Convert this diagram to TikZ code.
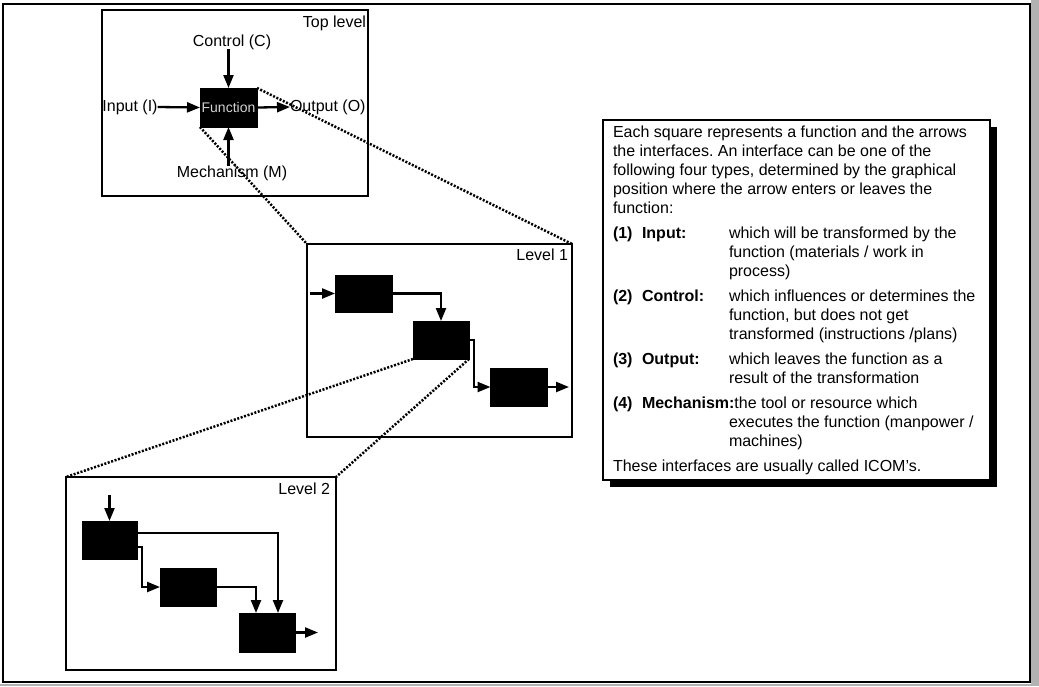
\documentclass[tikz,border=0pt]{standalone}
\usepackage{fontspec}
\setmainfont{Liberation Sans}
\usetikzlibrary{arrows.meta,shadows}
\frenchspacing
\begin{document}
\begin{tikzpicture}[x=1pt,y=-1pt,
  every node/.style={inner sep=0pt,outer sep=0pt,font=\fontsize{16}{19}\selectfont},
  frame/.style={draw=black,line width=1.8pt},
  func/.style={fill=black,draw=black,inner sep=0pt},
  flow/.style={line width=2.3pt,-{Triangle[length=13pt,width=10pt]}},
  zoomline/.style={line width=2.5pt,dash pattern=on 2pt off 1.6pt},
  lvl/.style={anchor=base east},
  txt/.style={anchor=north west,align=left},
  bf/.style={anchor=base west,font=\fontsize{16}{19}\selectfont\bfseries},
  rg/.style={anchor=base west}]
\useasboundingbox (0,0) rectangle (1039,686);
% page edge and outer frame
\fill[gray!60] (1031,0) rectangle (1039,686);
\fill[gray!60] (0,684) rectangle (1039,686);
\draw[line width=2.2pt] (3,4) rectangle (1030,682);

% ---- top level ----
\node[frame,minimum width=266pt,minimum height=186pt] (toplvl) at (235,103) {};
\node[lvl] (toplbl) at (366,27) {Top level};
\node[func,minimum width=57pt,minimum height=39pt,
      font=\fontsize{14}{16}\selectfont,text=gray!35] (fn) at (228.5,107.5) {Function};
\node (ctl) at (232,42) {Control (C)};
\node (inp) at (130,107) {Input (I)};
\node[anchor=west] (outp) at (290,107) {Output (O)};
\node (mech) at (232,173) {Mechanism (M)};
\draw[flow] (fn.north |- ctl.south) -- (fn.north);
\draw[flow] (inp.east) -- (fn.west);
\draw[flow] (fn.east) -- (outp.west);
\draw[flow] (fn.south |- mech.north) -- (fn.south);

% ---- level 1 ----
\node[frame,minimum width=265pt,minimum height=193pt] (lvl1) at (439.5,340.5) {};
\node[lvl] (lvl1lbl) at (568,260.5) {Level 1};
\node[func,minimum width=57pt,minimum height=37pt] (a1) at (363.5,293.5) {};
\node[func,minimum width=56pt,minimum height=38pt] (b1) at (441,340) {};
\node[func,minimum width=57pt,minimum height=38pt] (c1) at (519,387) {};
\coordinate (in1) at (310,293.5);
\coordinate (out1) at (569,387);
\draw[flow] (in1) -- (a1.west);
\draw[flow] (a1.east) -| (b1.north);
\draw[flow] (b1.east) -- ++(5,0) |- (c1.west);
\draw[flow] (c1.east) -- (out1);

% ---- level 2 ----
\node[frame,minimum width=270pt,minimum height=193pt] (lvl2) at (201,573.5) {};
\node[lvl] (lvl2lbl) at (330,494.5) {Level 2};
\node[func,minimum width=55pt,minimum height=38pt] (d2) at (109.5,540) {};
\node[func,minimum width=56pt,minimum height=38pt] (e2) at (188,587) {};
\node[func,minimum width=56pt,minimum height=39pt] (f2) at (267,632.5) {};
\coordinate (in2) at (109.5,495);
\coordinate (out2) at (318,632.5);
\draw[flow] (in2) -- (d2.north);
\draw[flow] ([yshift=7pt]d2.east) -| ([xshift=11pt]f2.north);
\draw[flow] ([yshift=-7pt]d2.east) -- ++(5,0) |- (e2.west);
\draw[flow] (e2.east) -| ([xshift=-11pt]f2.north);
\draw[flow] (f2.east) -- (out2);

% ---- decomposition guides ----
\draw[zoomline] (fn.north east) -- (lvl1.north east);
\draw[zoomline] (fn.south west) -- (lvl1.north west);
\draw[zoomline] (b1.south west) -- (lvl2.north west);
\draw[zoomline] (b1.south east) -- (lvl2.north east);

% ---- explanation box ----
\node[draw=black,line width=1.6pt,fill=white,minimum width=387pt,minimum height=360pt,
      general shadow={fill=black,shadow xshift=7pt,shadow yshift=-7pt}] (note) at (796.5,300) {};
\node[txt] (intro) at (613,126) {Each square represents a function and the arrows\\
  the interfaces. An interface can be one of the\\
  following four types, determined by the graphical\\
  position where the arrow enters or leaves the\\
  function:};
\node[bf] (n1) at (613,238.5) {(1)};
\node[bf] (k1) at (642,238.5) {Input:};
\node[txt] (d1) at (729,227) {which will be transformed by the\\ function (materials / work in\\ process)};
\node[bf] (n2) at (613,301.5) {(2)};
\node[bf] (k2) at (642,301.5) {Control:};
\node[txt] (d2t) at (729,290) {which influences or determines the\\ function, but does not get\\ transformed (instructions /plans)};
\node[bf] (n3) at (613,364.5) {(3)};
\node[bf] (k3) at (642,364.5) {Output:};
\node[txt] (d3) at (729,353) {which leaves the function as a\\ result of the transformation};
\node[bf] (n4) at (613,408.5) {(4)};
\node[bf] (k4) at (642,408.5) {Mechanism:};
\node[rg] (d4a) at (k4.base east) {the tool or resource which};
\node[txt] (d4b) at (729,416) {executes the function (manpower /\\ machines)};
\node[rg] (closing) at (613,471.5) {These interfaces are usually called ICOM's.};
\end{tikzpicture}
\end{document}
